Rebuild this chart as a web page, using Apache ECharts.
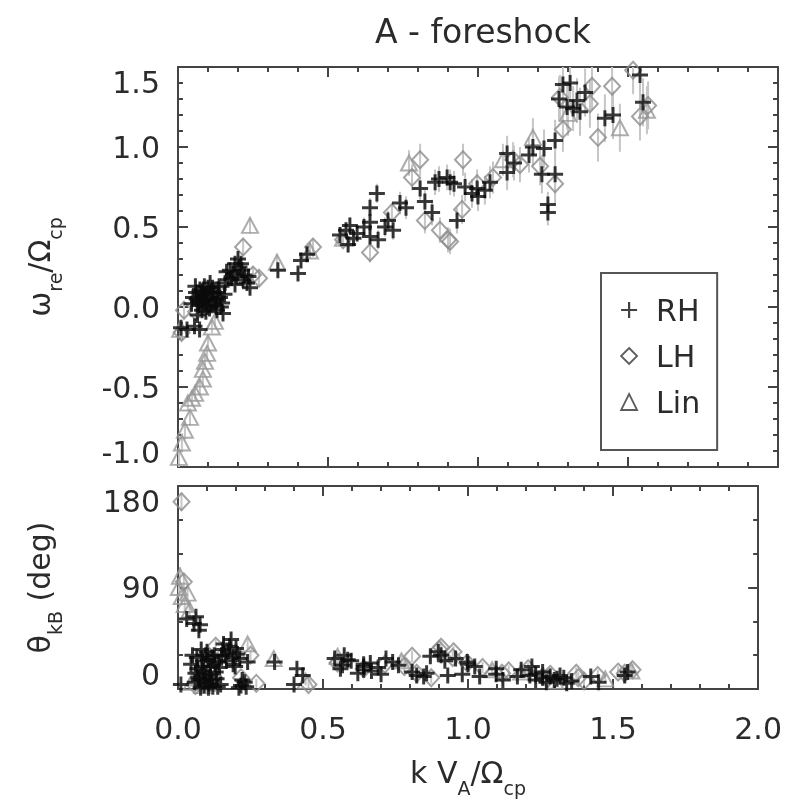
<!DOCTYPE html>
<html>
<head>
<meta charset="utf-8">
<script src="https://cdn.jsdelivr.net/npm/echarts@6/dist/echarts.min.js"></script>
<style>
  html, body { margin: 0; padding: 0; background: #fff; }
  #myChart { width: 785px; height: 805px; filter: blur(0.7px); }
</style>
</head>
<body>
<div id="myChart"></div>
<script>
// rows: [k VA/Ocp, omega_re/Ocp, omega err, theta_kB (deg), theta err]
const rh = [
  [0.010, -0.13, 0.03, 4, 3], [0.030, -0.14, 0.03, 62, 5], [0.055, -0.12, 0.03, 58, 5],
  [0.072, -0.14, 0.03, 52, 5], [0.050, 0.06, 0.04, 30, 6], [0.067, 0.03, 0.04, 18, 6],
  [0.073, 0.11, 0.04, 8, 5], [0.085, 0.05, 0.04, 25, 6], [0.090, 0.08, 0.04, 3, 4],
  [0.097, 0.00, 0.04, 12, 5], [0.100, 0.12, 0.04, 33, 6], [0.107, 0.15, 0.04, 5, 4],
  [0.110, 0.02, 0.04, 20, 6], [0.117, 0.04, 0.04, 28, 6], [0.120, 0.09, 0.04, 2, 4],
  [0.130, -0.02, 0.04, 15, 6], [0.133, 0.09, 0.04, 9, 5], [0.140, 0.06, 0.04, 24, 6],
  [0.147, 0.025, 0.04, 4, 4], [0.150, -0.04, 0.04, 30, 6], [0.060, 0.09, 0.04, 14, 5],
  [0.080, -0.02, 0.04, 35, 6], [0.157, 0.15, 0.04, 40, 6], [0.167, 0.17, 0.04, 25, 6],
  [0.173, 0.23, 0.04, 33, 6], [0.190, 0.27, 0.04, 28, 6], [0.197, 0.19, 0.04, 20, 6],
  [0.200, 0.30, 0.04, 36, 6], [0.213, 0.23, 0.04, 27, 6], [0.217, 0.17, 0.04, 3, 4],
  [0.230, 0.15, 0.04, 6, 4], [0.240, 0.12, 0.04, 24, 6], [0.183, 0.21, 0.04, 44, 6],
  [0.045, 0.02, 0.03, 22, 5], [0.058, 0.13, 0.04, 6, 4], [0.065, -0.05, 0.03, 28, 5],
  [0.078, 0.07, 0.04, 1, 3], [0.088, 0.13, 0.04, 16, 5], [0.093, -0.03, 0.04, 9, 4],
  [0.103, 0.06, 0.04, 26, 5], [0.112, 0.10, 0.04, 13, 5], [0.125, 0.01, 0.04, 30, 5],
  [0.137, 0.13, 0.04, 2, 3], [0.143, 0.00, 0.04, 19, 5], [0.155, 0.08, 0.04, 35, 5],
  [0.162, 0.22, 0.04, 30, 5], [0.178, 0.18, 0.04, 38, 5], [0.205, 0.25, 0.04, 31, 5],
  [0.222, 0.20, 0.04, 8, 4], [0.235, 0.19, 0.04, 2, 3], [0.190, 0.14, 0.04, 22, 5],
  [0.070, 0.01, 0.04, 10, 4], [0.082, 0.10, 0.04, 20, 5], [0.095, 0.04, 0.04, 30, 5],
  [0.105, -0.01, 0.04, 1, 3], [0.115, 0.12, 0.04, 8, 4], [0.128, 0.05, 0.04, 22, 5],
  [0.062, 0.05, 0.04, 64, 5], [0.076, 0.04, 0.04, 57, 5], [0.210, 0.27, 0.04, 1, 3],
  [0.333, 0.23, 0.04, 24, 5], [0.400, 0.21, 0.04, 4, 4], [0.410, 0.29, 0.04, 18, 5],
  [0.430, 0.33, 0.04, 12, 5], [0.540, 0.45, 0.05, 27, 5], [0.573, 0.51, 0.05, 30, 5],
  [0.567, 0.39, 0.05, 21, 5], [0.597, 0.46, 0.05, 25, 5], [0.560, 0.48, 0.05, 18, 5],
  [0.585, 0.43, 0.05, 26, 5], [0.640, 0.62, 0.06, 20, 5], [0.640, 0.53, 0.06, 17, 5],
  [0.640, 0.44, 0.06, 22, 5], [0.663, 0.71, 0.06, 23, 5], [0.667, 0.42, 0.06, 16, 5],
  [0.620, 0.50, 0.06, 14, 5], [0.700, 0.54, 0.06, 13, 5], [0.717, 0.48, 0.06, 27, 5],
  [0.690, 0.50, 0.06, 19, 5], [0.740, 0.65, 0.07, 24, 5], [0.760, 0.62, 0.07, 21, 5],
  [0.807, 0.74, 0.07, 15, 5], [0.823, 0.66, 0.07, 12, 5], [0.847, 0.59, 0.08, 11, 5],
  [0.857, 0.78, 0.08, 14, 5], [0.870, 0.80, 0.08, 29, 5], [0.897, 0.81, 0.08, 33, 5],
  [0.907, 0.78, 0.08, 30, 5], [0.920, 0.77, 0.08, 25, 5], [0.930, 0.54, 0.08, 12, 5],
  [0.957, 0.75, 0.09, 27, 5], [0.980, 0.71, 0.09, 13, 5], [0.997, 0.74, 0.09, 24, 5],
  [1.000, 0.69, 0.09, 22, 5], [1.023, 0.73, 0.09, 20, 5], [1.040, 0.78, 0.10, 11, 5],
  [1.097, 0.96, 0.11, 18, 5], [1.097, 0.84, 0.11, 13, 5], [1.120, 0.90, 0.11, 8, 5],
  [1.170, 0.95, 0.11, 11, 5], [1.183, 1.00, 0.12, 17, 5], [1.213, 0.83, 0.12, 12, 5],
  [1.220, 0.99, 0.12, 20, 5], [1.257, 1.04, 0.13, 10, 5], [1.257, 0.83, 0.13, 15, 5],
  [1.233, 0.64, 0.08, 8, 4], [1.233, 0.59, 0.08, 13, 4], [1.283, 1.39, 0.14, 11, 5],
  [1.307, 1.40, 0.14, 9, 5], [1.297, 1.25, 0.14, 8, 5], [1.317, 1.24, 0.14, 12, 5],
  [1.330, 1.29, 0.14, 10, 5], [1.270, 1.30, 0.14, 6, 4], [1.340, 1.22, 0.15, 5, 4],
  [1.357, 1.34, 0.15, 7, 4], [1.423, 1.18, 0.15, 11, 5], [1.450, 1.20, 0.15, 6, 4],
  [1.540, 1.45, 0.15, 12, 5], [1.550, 1.28, 0.15, 15, 5]
];
const lh = [
  [0.012, -0.16, 0.05, 166, 8], [0.020, -0.02, 0.05, 95, 8], [0.060, -0.03, 0.04, 3, 4],
  [0.217, 0.375, 0.05, 10, 5], [0.270, 0.18, 0.05, 5, 4], [0.450, 0.375, 0.05, 4, 4],
  [0.550, 0.42, 0.05, 23, 5], [0.640, 0.34, 0.06, 18, 5], [0.713, 0.59, 0.06, 22, 5],
  [0.807, 0.92, 0.10, 29, 5], [0.780, 0.81, 0.08, 20, 5], [0.823, 0.54, 0.08, 14, 5],
  [0.873, 0.48, 0.08, 10, 5], [0.900, 0.42, 0.08, 35, 5], [0.907, 0.41, 0.08, 37, 5],
  [0.950, 0.92, 0.10, 33, 5], [0.947, 0.61, 0.09, 28, 5], [0.997, 0.77, 0.09, 23, 5],
  [1.050, 0.81, 0.10, 19, 5], [1.117, 0.92, 0.11, 14, 5], [1.140, 0.89, 0.11, 16, 5],
  [1.207, 0.88, 0.12, 18, 5], [1.257, 0.77, 0.12, 11, 5], [1.273, 1.31, 0.14, 9, 5],
  [1.283, 1.11, 0.14, 13, 5], [1.380, 1.38, 0.15, 10, 5], [1.373, 1.27, 0.15, 14, 5],
  [1.400, 1.06, 0.15, 7, 4], [1.447, 1.38, 0.15, 12, 5], [1.517, 1.48, 0.15, 15, 5],
  [1.540, 1.19, 0.15, 14, 5], [1.567, 1.26, 0.15, 17, 5], [0.130, 0.10, 0.04, 38, 6],
  [0.250, 0.20, 0.05, 30, 5]
];
const lin = [
  [0.003, -0.94, 0.06, 90, 8], [0.013, -0.85, 0.06, 82, 8], [0.023, -0.77, 0.06, 75, 8],
  [0.040, -0.69, 0.05, 70, 8], [0.033, -0.60, 0.05, 85, 8], [0.047, -0.57, 0.05, 6, 4],
  [0.057, -0.54, 0.05, 10, 4], [0.073, -0.50, 0.05, 15, 5], [0.083, -0.45, 0.05, 3, 4],
  [0.083, -0.39, 0.05, 20, 5], [0.090, -0.34, 0.05, 7, 4], [0.097, -0.29, 0.05, 12, 5],
  [0.100, -0.225, 0.05, 5, 4], [0.113, -0.125, 0.04, 28, 5], [0.123, -0.09, 0.04, 17, 5],
  [0.007, -0.14, 0.04, 100, 8], [0.240, 0.51, 0.05, 40, 5], [0.330, 0.28, 0.05, 27, 5],
  [0.440, 0.35, 0.05, 7, 4], [0.550, 0.43, 0.05, 29, 5], [0.770, 0.90, 0.08, 25, 5],
  [1.083, 0.92, 0.10, 17, 5], [1.183, 1.06, 0.12, 15, 5], [1.300, 1.21, 0.14, 7, 4],
  [1.473, 1.12, 0.15, 9, 4], [1.563, 1.23, 0.15, 16, 5]
];

const xTickLabels = ['0.0', '0.5', '1.0', '1.5', '2.0'];
const wTickLabels = ['-1.0', '-0.5', '0.0', '0.5', '1.0', '1.5'];
const thTickLabels = ['0', '90', '180'];

const FONT = 'DejaVu Sans';
const TXT = '#2b2b2b';
const AX = { color: '#444', width: 2 };
const plusPath = 'path://M0,5L10,5M5,0L5,10';
const nameRich = {
  m: { fontSize: 30, fontFamily: FONT, color: TXT, lineHeight: 40, verticalAlign: 'top' },
  s: { fontSize: 19, fontFamily: FONT, color: TXT, lineHeight: 20, verticalAlign: 'bottom' }
};

const myChart = echarts.init(document.getElementById('myChart'), null, { renderer: 'svg' });

function xPair(grid, labels) {
  const base = {
    type: 'value', gridIndex: grid, min: 0, max: 2, interval: 0.5,
    splitLine: { show: false },
    axisLine: { show: true, onZero: false, lineStyle: AX },
    axisTick: { show: true, inside: true, length: 10, lineStyle: AX },
    minorTick: { show: true, splitNumber: 5, length: 5, lineStyle: AX }
  };
  const bottom = Object.assign({}, base, {
    position: 'bottom',
    axisLabel: labels ? {
      show: true, margin: 24, fontSize: 30, fontFamily: FONT, color: TXT,
      showMinLabel: true, showMaxLabel: true,
      formatter: v => xTickLabels[Math.round(v / 0.5)]
    } : { show: false }
  });
  if (labels) {
    bottom.name = '{m|k V}{s|A}{m|/Ω}{s|cp}';
    bottom.nameLocation = 'middle';
    bottom.nameGap = 68;
    bottom.nameTextStyle = { fontFamily: FONT, color: TXT, rich: nameRich };
  }
  const top = Object.assign({}, base, { position: 'top', axisLabel: { show: false } });
  return [bottom, top];
}

function yPair(grid, min, max, interval, minorSplit, labels, name) {
  const base = {
    type: 'value', gridIndex: grid, min: min, max: max, interval: interval,
    splitLine: { show: false },
    axisLine: { show: true, onZero: false, lineStyle: AX },
    axisTick: { show: true, inside: true, length: 10, lineStyle: AX },
    minorTick: { show: true, splitNumber: minorSplit, length: 5, lineStyle: AX }
  };
  const left = Object.assign({}, base, {
    position: 'left',
    axisLabel: {
      show: true, margin: 18, fontSize: 30, fontFamily: FONT, color: TXT,
      showMinLabel: true, showMaxLabel: true,
      verticalAlignMinLabel: 'bottom', verticalAlignMaxLabel: 'top',
      formatter: v => labels[Math.round((v - min) / interval)]
    },
    name: name,
    nameLocation: 'middle',
    nameRotate: 90,
    nameGap: 114,
    nameTextStyle: { fontFamily: FONT, color: TXT, rich: nameRich }
  });
  const right = Object.assign({}, base, { position: 'right', axisLabel: { show: false } });
  return [left, right];
}

function errSeries(rows, yi, ei, axis, color) {
  return {
    type: 'custom', xAxisIndex: axis, yAxisIndex: axis, z: 1,
    encode: { x: 0, y: [1, 2] },
    data: rows.map(r => [r[0], r[yi] - r[ei], r[yi] + r[ei]]),
    renderItem: function (params, api) {
      const pts = echarts.graphic.clipPointsByRect(
        [api.coord([api.value(0), api.value(1)]), api.coord([api.value(0), api.value(2)])],
        params.coordSys
      );
      return {
        type: 'line',
        shape: { x1: pts[0][0], y1: pts[0][1], x2: pts[1][0], y2: pts[1][1] },
        style: { stroke: color, lineWidth: 2 }
      };
    }
  };
}

const styles = {
  RH: { symbol: plusPath, symbolSize: 16, itemStyle: { color: 'transparent', borderColor: '#0a0a0a', borderWidth: 3 } },
  LH: { symbol: 'diamond', symbolSize: [16, 17], itemStyle: { color: 'transparent', borderColor: '#8c8c8c', borderWidth: 2 } },
  Lin: { symbol: 'triangle', symbolSize: [16, 15], itemStyle: { color: 'transparent', borderColor: '#999', borderWidth: 2 } }
};

function pointSeries(name, rows, yi, axis, z) {
  return Object.assign({
    name: name, type: 'scatter', xAxisIndex: axis, yAxisIndex: axis, z: z,
    data: rows.map(r => [r[0], r[yi]])
  }, styles[name]);
}

const groups = [['Lin', lin, 3], ['LH', lh, 4], ['RH', rh, 5]];
const series = [];
// top panel uses axes 0, bottom panel axes 2 (1 and 3 are the mirrored top/right axes)
[[1, 2, 0], [3, 4, 2]].forEach(([yi, ei, axis]) => {
  groups.forEach(([n, rows]) => series.push(errSeries(rows, yi, ei, axis, '#c6c6c6')));
  groups.forEach(([n, rows, z]) => series.push(pointSeries(n, rows, yi, axis, z)));
});

const option = {
  animation: false,
  backgroundColor: '#fff',
  title: {
    text: 'A - foreshock', left: 478, top: 10, textAlign: 'center',
    textStyle: { fontFamily: FONT, fontSize: 33, fontWeight: 'normal', color: TXT }
  },
  grid: [
    { left: 178, right: 7, top: 67, height: 400 },
    { left: 178, right: 7, top: 486, height: 203 }
  ],
  xAxis: [].concat(xPair(0, false), xPair(1, true)),
  yAxis: [].concat(
    yPair(0, -1, 1.5, 0.5, 5, wTickLabels, '{m|ω}{s|re}{m|/Ω}{s|cp}'),
    yPair(1, 0, 180, 90, 3, thTickLabels, '{m|θ}{s|kB}{m| (deg)}')
  ),
  legend: {
    orient: 'vertical', left: 601, top: 273,
    borderColor: '#555', borderWidth: 2, borderRadius: 0,
    padding: [19, 17, 30, 19],
    itemWidth: 16, itemHeight: 16, itemGap: 10,
    selectedMode: false,
    textStyle: { fontFamily: FONT, fontSize: 30, color: TXT, lineHeight: 36, padding: [0, 0, 0, 14] },
    data: [
      { name: 'RH', icon: plusPath, itemStyle: { color: 'transparent', borderColor: '#111', borderWidth: 2.2 } },
      { name: 'LH', icon: 'diamond', itemStyle: { color: 'transparent', borderColor: '#333', borderWidth: 1.8 } },
      { name: 'Lin', icon: 'triangle', itemStyle: { color: 'transparent', borderColor: '#333', borderWidth: 1.8 } }
    ]
  },
  series: series
};

myChart.setOption(option);
</script>
</body>
</html>
